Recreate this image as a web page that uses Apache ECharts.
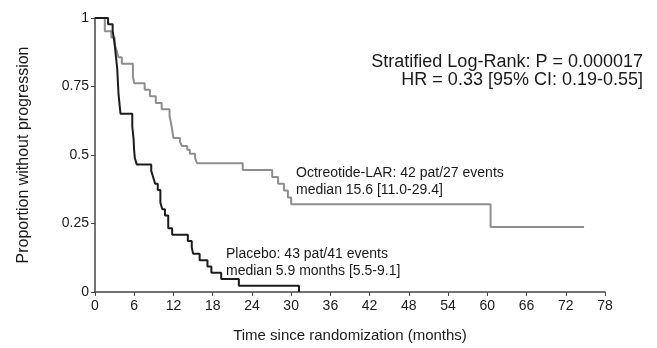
<!DOCTYPE html>
<html>
<head>
<meta charset="utf-8">
<script src="https://cdn.jsdelivr.net/npm/echarts@6/dist/echarts.min.js"></script>
<style>html,body{margin:0;padding:0;background:#fff}#c{width:657px;height:348px}</style>
</head>
<body>
<div id="c"></div>
<script>
// Kaplan-Meier steps: [time (months), proportion without progression]
const octreotide = [
  [0,1],[1.5,0.952],[2.5,0.929],[3.0,0.905],[3.3,0.881],[3.6,0.857],[4.1,0.833],
  [5.8,0.786],[6.0,0.762],[7.6,0.738],[8.4,0.714],[9.3,0.690],[10.2,0.667],
  [11.4,0.643],[11.7,0.607],[12.0,0.562],[13.0,0.548],[13.3,0.533],[14.1,0.519],
  [14.5,0.505],[15.3,0.490],[15.6,0.470],[22.6,0.445],[27.1,0.42],[28.0,0.395],
  [28.9,0.37],[29.5,0.345],[30.0,0.32],[60.5,0.237],[74.8,0.237]
];
const placebo = [
  [0,1],[2.0,0.977],[2.7,0.953],[3.0,0.907],[3.2,0.860],[3.4,0.814],[3.5,0.767],
  [3.6,0.721],[3.8,0.674],[3.9,0.651],[5.7,0.605],[5.9,0.558],[6.0,0.512],
  [6.1,0.488],[6.4,0.465],[8.6,0.442],[8.9,0.419],[9.2,0.395],[9.6,0.372],
  [10.0,0.326],[10.3,0.302],[10.7,0.279],[11.2,0.233],[11.8,0.209],[14.2,0.186],
  [14.8,0.163],[15.0,0.140],[16.0,0.116],[17.2,0.093],[17.8,0.070],[19.3,0.047],
  [22.0,0.023],[31.2,0]
];
const xTicks = [0,6,12,18,24,30,36,42,48,54,60,66,72,78];
const yTickLabels = {0:'0',0.25:'0.25',0.5:'0.5',0.75:'0.75',1:'1'};
const statLines = ['Stratified Log-Rank: P = 0.000017','HR = 0.33 [95% CI: 0.19-0.55]'];
const octLabel = ['Octreotide-LAR: 42 pat/27 events','median 15.6 [11.0-29.4]'];
const plaLabel = ['Placebo: 43 pat/41 events','median 5.9 months [5.5-9.1]'];

const chart = echarts.init(document.getElementById('c'), null, {renderer:'canvas'});
const font = '"Liberation Sans", Arial, sans-serif';
const txt = '#1a1a1a';
chart.setOption({
  animation:false,
  backgroundColor:'#fff',
  grid:{left:95,right:52,top:18,bottom:56},
  xAxis:{
    type:'value',min:0,max:78,interval:6,
    name:'Time since randomization (months)',nameLocation:'middle',nameGap:36,
    nameTextStyle:{fontFamily:font,fontSize:15,color:txt},
    axisLine:{lineStyle:{color:'#444',width:1.5}},
    axisTick:{show:true,length:4,lineStyle:{color:'#444'}},
    axisLabel:{fontFamily:font,fontSize:14,color:txt,margin:7},
    splitLine:{show:false}
  },
  yAxis:{
    type:'value',min:0,max:1,interval:0.25,
    name:'Proportion without progression',nameLocation:'middle',nameGap:63,
    nameTextStyle:{fontFamily:font,fontSize:16,color:txt},
    axisLine:{show:true,lineStyle:{color:'#444',width:1.5}},
    axisTick:{show:true,length:4,lineStyle:{color:'#444'}},
    axisLabel:{fontFamily:font,fontSize:14,color:txt,margin:6,formatter:v=>yTickLabels[v] ?? ''},
    splitLine:{show:false}
  },
  series:[
    {type:'line',step:'end',data:octreotide,symbol:'none',lineStyle:{color:'#8e8e8e',width:2},z:2},
    {type:'line',step:'end',data:placebo,symbol:'none',lineStyle:{color:'#1c1c1c',width:2},z:3}
  ],
  graphic:[
    {type:'text',right:14,top:53,style:{text:statLines[0],font:'18px '+font,fill:txt}},
    {type:'text',right:14,top:71,style:{text:statLines[1],font:'18px '+font,fill:txt}},
    {type:'text',left:296,top:165,style:{text:octLabel.join('\n'),font:'14px '+font,fill:txt,lineHeight:17}},
    {type:'text',left:226,top:246,style:{text:plaLabel.join('\n'),font:'14px '+font,fill:txt,lineHeight:16.5}}
  ]
});
</script>
</body>
</html>
